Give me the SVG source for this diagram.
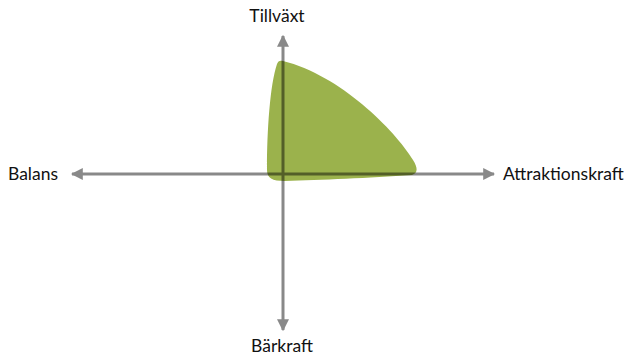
<svg xmlns="http://www.w3.org/2000/svg" width="643" height="358" viewBox="0 0 643 358">
<style>
.ax{stroke:#000;stroke-width:3;fill:none}
.lbl{font-family:Lato,"Open Sans",sans-serif;font-size:17.5px;fill:#111}
</style>
<defs>
<marker id="ah" viewBox="0 0 10 10" refX="9" refY="5" markerWidth="4" markerHeight="4" orient="auto-start-reverse" markerUnits="strokeWidth">
<path d="M0,0 L10,5 L0,10 z" fill="#000"/>
</marker>
</defs>
<g id="area">
<path d="M283,61 C340,75 395,130 413,160 C418,168 418,173 412,175 C370,178 320,180 285,181 C272,181 267,178 267,170 C267,130 270,85 277,64 C278,61 280,60 283,61 Z" fill="#9bb24c"/>
</g>
<g id="connectors" opacity="0.46">
<line class="ax" x1="283" y1="330" x2="283" y2="36" marker-start="url(#ah)" marker-end="url(#ah)"/>
<line class="ax" x1="494" y1="174" x2="72" y2="174" marker-start="url(#ah)" marker-end="url(#ah)"/>
</g>
<g id="n-tillvaxt"><text class="lbl" x="277" y="22" text-anchor="middle">Tillväxt</text></g>
<g id="n-balans"><text class="lbl" x="8" y="180">Balans</text></g>
<g id="n-attraktionskraft"><text class="lbl" x="503" y="180">Attraktionskraft</text></g>
<g id="n-barkraft"><text class="lbl" x="282" y="352" text-anchor="middle">Bärkraft</text></g>
</svg>
